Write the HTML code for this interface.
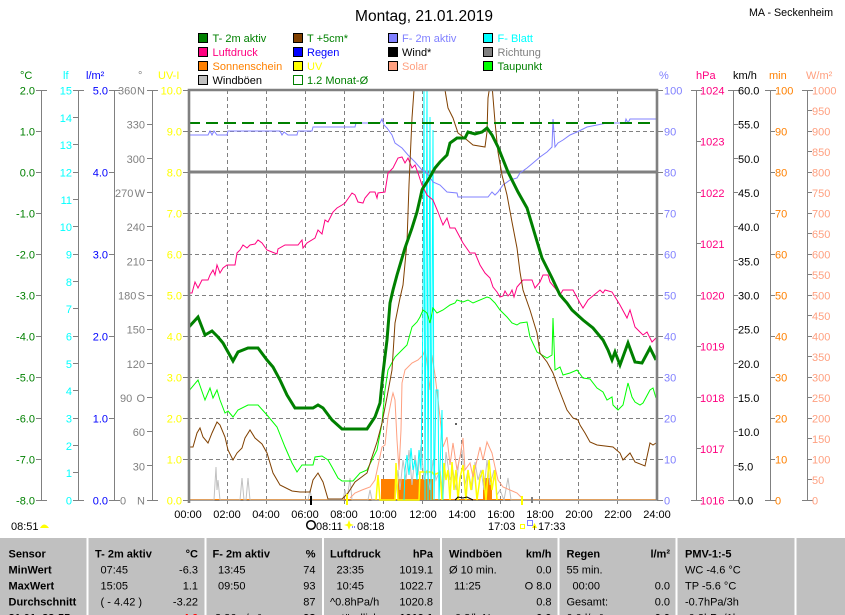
<!DOCTYPE html>
<html><head><meta charset="utf-8"><style>
html,body{margin:0;padding:0;background:#fff;overflow:hidden;}
svg{display:block;font-family:"Liberation Sans",sans-serif;font-size:11px;}
.b{font-weight:bold;}
</style></head><body>
<svg width="845" height="615" viewBox="0 0 845 615" xmlns="http://www.w3.org/2000/svg">
<rect x="0" y="0" width="845" height="615" fill="#fff"/>
<!-- Title -->
<text x="424" y="21" text-anchor="middle" font-size="15.5" fill="#000">Montag, 21.01.2019</text>
<text x="749" y="16" font-size="11" fill="#000" textLength="84" lengthAdjust="spacingAndGlyphs">MA - Seckenheim</text>

<!-- Legend -->
<g stroke="#000" stroke-width="1">
<rect x="198.5" y="33.5" width="9" height="9" fill="#008000"/>
<rect x="198.5" y="47.5" width="9" height="9" fill="#ff0080"/>
<rect x="198.5" y="61.5" width="9" height="9" fill="#ff8000"/>
<rect x="198.5" y="75.5" width="9" height="9" fill="#c0c0c0"/>
<rect x="293.5" y="33.5" width="9" height="9" fill="#804000"/>
<rect x="293.5" y="47.5" width="9" height="9" fill="#0000ff"/>
<rect x="293.5" y="61.5" width="9" height="9" fill="#ffff00"/>
<rect x="388.5" y="33.5" width="9" height="9" fill="#8080ff"/>
<rect x="388.5" y="47.5" width="9" height="9" fill="#000"/>
<rect x="388.5" y="61.5" width="9" height="9" fill="#ffa080"/>
<rect x="483.5" y="33.5" width="9" height="9" fill="#00ffff"/>
<rect x="483.5" y="47.5" width="9" height="9" fill="#808080"/>
<rect x="483.5" y="61.5" width="9" height="9" fill="#00ff00"/>
</g>
<rect x="293.5" y="75.5" width="9" height="9" fill="#fff" stroke="#008000" stroke-width="1"/>
<text x="212.5" y="42" fill="#008000">T- 2m aktiv</text>
<text x="212.5" y="56" fill="#ff0080">Luftdruck</text>
<text x="212.5" y="70" fill="#ff8000">Sonnenschein</text>
<text x="212.5" y="84" fill="#000">Windböen</text>
<text x="307" y="42" fill="#008000">T +5cm*</text>
<text x="307" y="56" fill="#0000ff">Regen</text>
<text x="307" y="70" fill="#ffff00">UV</text>
<text x="307" y="84" fill="#008000">1.2 Monat-Ø</text>
<text x="402" y="42" fill="#8080ff">F- 2m aktiv</text>
<text x="402" y="56" fill="#000">Wind*</text>
<text x="402" y="70" fill="#ffa080">Solar</text>
<text x="497.5" y="42" fill="#00ffff">F- Blatt</text>
<text x="497.5" y="56" fill="#808080">Richtung</text>
<text x="497.5" y="70" fill="#008000">Taupunkt</text>

<!-- Units -->
<text x="20" y="79" fill="#008000">°C</text>
<text x="63" y="79" fill="#00ffff">lf</text>
<text x="86" y="79" fill="#0000ff">l/m²</text>
<text x="138" y="79" fill="#808080">°</text>
<text x="158" y="79" fill="#ffff00">UV-I</text>
<text x="659" y="79" fill="#8080ff">%</text>
<text x="696" y="79" fill="#ff0080">hPa</text>
<text x="733" y="79" fill="#000">km/h</text>
<text x="769" y="79" fill="#ff8000">min</text>
<text x="806" y="79" fill="#ffa080">W/m²</text>

<!-- Axis lines -->
<g stroke="#808080" stroke-width="1" fill="none">
<path d="M41.5,90V500M78.5,90V500M114.5,90V500M152.5,90V500M696.5,90V500M733.5,90V500M770.5,90V500M807.5,90V500"/>
<path d="M36,90.5H47M36,500.5H47M73,90.5H84M73,500.5H84M109,90.5H120M109,500.5H120M147,90.5H158M147,500.5H158M691,90.5H702M691,500.5H702M728,90.5H739M728,500.5H739M765,90.5H776M765,500.5H776M802,90.5H813M802,500.5H813"/>
<path d="M36,131.5H41M36,172.5H41M36,213.5H41M36,254.5H41M36,295.5H41M36,336.5H41M36,377.5H41M36,418.5H41M36,459.5H41"/>
<path d="M73,117.5H78M73,144.5H78M73,172.5H78M73,199.5H78M73,226.5H78M73,254.5H78M73,281.5H78M73,308.5H78M73,336.5H78M73,363.5H78M73,390.5H78M73,418.5H78M73,445.5H78M73,472.5H78"/>
<path d="M109,172.5H114M109,254.5H114M109,336.5H114M109,418.5H114"/>
<path d="M147,124.5H152M147,158.5H152M147,192.5H152M147,226.5H152M147,260.5H152M147,295.5H152M147,329.5H152M147,363.5H152M147,397.5H152M147,431.5H152M147,465.5H152"/>
<path d="M183,131.5H188M183,213.5H188M183,254.5H188M183,295.5H188M183,336.5H188M183,377.5H188M183,418.5H188M183,459.5H188M183,90.5H188M183,172.5H188M183,500.5H188"/>
<path d="M657,131.5H663M657,172.5H663M657,213.5H663M657,254.5H663M657,295.5H663M657,336.5H663M657,377.5H663M657,418.5H663M657,459.5H663M657,90.5H663M657,500.5H663"/>
<path d="M696,141.5H701M696,192.5H701M696,243.5H701M696,295.5H701M696,346.5H701M696,397.5H701M696,448.5H701"/>
<path d="M733,124.5H738M733,158.5H738M733,192.5H738M733,226.5H738M733,260.5H738M733,295.5H738M733,329.5H738M733,363.5H738M733,397.5H738M733,431.5H738M733,465.5H738"/>
<path d="M770,131.5H775M770,172.5H775M770,213.5H775M770,254.5H775M770,295.5H775M770,336.5H775M770,377.5H775M770,418.5H775M770,459.5H775"/>
<path d="M807,110.5H812M807,131.5H812M807,151.5H812M807,172.5H812M807,192.5H812M807,213.5H812M807,233.5H812M807,254.5H812M807,274.5H812M807,295.5H812M807,315.5H812M807,336.5H812M807,356.5H812M807,377.5H812M807,397.5H812M807,418.5H812M807,438.5H812M807,459.5H812M807,479.5H812"/>
<path d="M227.5,500V504M266.5,500V504M305.5,500V504M344.5,500V504M383.5,500V504M422.5,500V504M461.5,500V504M500.5,500V504M539.5,500V504M578.5,500V504M617.5,500V504"/>
</g>

<!-- Left axis labels -->
<g fill="#008000" text-anchor="end">
<text x="35" y="94.5">2.0</text><text x="35" y="135.5">1.0</text><text x="35" y="176.5">0.0</text><text x="35" y="217.5">-1.0</text><text x="35" y="258.5">-2.0</text><text x="35" y="299.5">-3.0</text><text x="35" y="340.5">-4.0</text><text x="35" y="381.5">-5.0</text><text x="35" y="422.5">-6.0</text><text x="35" y="463.5">-7.0</text><text x="35" y="504.5">-8.0</text>
</g>
<g fill="#00ffff" text-anchor="end">
<text x="72" y="94.5">15</text><text x="72" y="121.8">14</text><text x="72" y="149.2">13</text><text x="72" y="176.5">12</text><text x="72" y="203.8">11</text><text x="72" y="231.2">10</text><text x="72" y="258.5">9</text><text x="72" y="285.8">8</text><text x="72" y="313.2">7</text><text x="72" y="340.5">6</text><text x="72" y="367.8">5</text><text x="72" y="395.2">4</text><text x="72" y="422.5">3</text><text x="72" y="449.8">2</text><text x="72" y="477.2">1</text><text x="72" y="504.5">0</text>
</g>
<g fill="#0000ff" text-anchor="end">
<text x="108" y="94.5">5.0</text><text x="108" y="176.5">4.0</text><text x="108" y="258.5">3.0</text><text x="108" y="340.5">2.0</text><text x="108" y="422.5">1.0</text><text x="108" y="504.5">0.0</text>
</g>
<g fill="#808080">
<text x="118" y="94.5">360</text><text x="145" y="94.5" text-anchor="end">N</text>
<text x="145" y="128.7" text-anchor="end">330</text>
<text x="145" y="162.8" text-anchor="end">300</text>
<text x="115" y="197">270</text><text x="145" y="197" text-anchor="end">W</text>
<text x="145" y="231.2" text-anchor="end">240</text>
<text x="145" y="265.3" text-anchor="end">210</text>
<text x="118" y="299.5">180</text><text x="145" y="299.5" text-anchor="end">S</text>
<text x="145" y="333.7" text-anchor="end">150</text>
<text x="145" y="367.8" text-anchor="end">120</text>
<text x="120" y="402">90</text><text x="145" y="402" text-anchor="end">O</text>
<text x="145" y="436.2" text-anchor="end">60</text>
<text x="145" y="470.3" text-anchor="end">30</text>
<text x="120" y="504.5">0</text><text x="145" y="504.5" text-anchor="end">N</text>
</g>
<g fill="#ffff00" text-anchor="end">
<text x="182" y="94.5">10.0</text><text x="182" y="135.5">9.0</text><text x="182" y="176.5">8.0</text><text x="182" y="217.5">7.0</text><text x="182" y="258.5">6.0</text><text x="182" y="299.5">5.0</text><text x="182" y="340.5">4.0</text><text x="182" y="381.5">3.0</text><text x="182" y="422.5">2.0</text><text x="182" y="463.5">1.0</text><text x="182" y="504.5">0.0</text>
</g>

<!-- Right axis labels -->
<g fill="#8080ff">
<text x="664" y="94.5">100</text><text x="664" y="135.5">90</text><text x="664" y="176.5">80</text><text x="664" y="217.5">70</text><text x="664" y="258.5">60</text><text x="664" y="299.5">50</text><text x="664" y="340.5">40</text><text x="664" y="381.5">30</text><text x="664" y="422.5">20</text><text x="664" y="463.5">10</text><text x="664" y="504.5">0</text>
</g>
<g fill="#ff0080">
<text x="700" y="94.5">1024</text><text x="700" y="145.7">1023</text><text x="700" y="197">1022</text><text x="700" y="248.2">1021</text><text x="700" y="299.5">1020</text><text x="700" y="350.7">1019</text><text x="700" y="402">1018</text><text x="700" y="453.2">1017</text><text x="700" y="504.5">1016</text>
</g>
<g fill="#000">
<text x="738" y="94.5">60.0</text><text x="738" y="128.7">55.0</text><text x="738" y="162.8">50.0</text><text x="738" y="197">45.0</text><text x="738" y="231.2">40.0</text><text x="738" y="265.3">35.0</text><text x="738" y="299.5">30.0</text><text x="738" y="333.7">25.0</text><text x="738" y="367.8">20.0</text><text x="738" y="402">15.0</text><text x="738" y="436.2">10.0</text><text x="738" y="470.3">5.0</text><text x="738" y="504.5">0.0</text>
</g>
<g fill="#ff8000">
<text x="775" y="94.5">100</text><text x="775" y="135.5">90</text><text x="775" y="176.5">80</text><text x="775" y="217.5">70</text><text x="775" y="258.5">60</text><text x="775" y="299.5">50</text><text x="775" y="340.5">40</text><text x="775" y="381.5">30</text><text x="775" y="422.5">20</text><text x="775" y="463.5">10</text><text x="775" y="504.5">0</text>
</g>
<g fill="#ffa080">
<text x="812" y="94.5">1000</text><text x="812" y="115">950</text><text x="812" y="135.5">900</text><text x="812" y="156">850</text><text x="812" y="176.5">800</text><text x="812" y="197">750</text><text x="812" y="217.5">700</text><text x="812" y="238">650</text><text x="812" y="258.5">600</text><text x="812" y="279">550</text><text x="812" y="299.5">500</text><text x="812" y="320">450</text><text x="812" y="340.5">400</text><text x="812" y="361">350</text><text x="812" y="381.5">300</text><text x="812" y="402">250</text><text x="812" y="422.5">200</text><text x="812" y="443">150</text><text x="812" y="463.5">100</text><text x="812" y="484">50</text><text x="812" y="504.5">0</text>
</g>

<!-- Grid -->
<g stroke="#808080" stroke-width="1" stroke-dasharray="4,3" fill="none">
<path d="M188,131.5H657M188,213.5H657M188,254.5H657M188,295.5H657M188,336.5H657M188,377.5H657M188,418.5H657M188,459.5H657"/>
<path d="M227.5,90V500M266.5,90V500M305.5,90V500M344.5,90V500M383.5,90V500M422.5,90V500M461.5,90V500M500.5,90V500M539.5,90V500M578.5,90V500M617.5,90V500"/>
</g>
<path d="M188,172H657" stroke="#808080" stroke-width="3"/>
<path d="M188,500.5H657" stroke="#808080" stroke-width="1"/>

<defs><clipPath id="pc"><rect x="188" y="90" width="469" height="411"/></clipPath></defs>
<g clip-path="url(#pc)" fill="none">
<g fill="#ff8000" stroke="none">
<rect x="381" y="479" width="14" height="21"/>
<rect x="398" y="479" width="35" height="21"/>
<rect x="483" y="478" width="9" height="22"/>
</g>
<path d="M188,499.5H657" stroke="#ff8000" stroke-width="1"/>
<polyline stroke="#c0c0c0" stroke-width="1" points="188,500 214,500 216,467 217,490 218,480 220,500 240,500 242,478 244,500 246,500 248,478 250,500 308,500 310,490 312,500 343,500 345,490 347,500 350,478 352,500 368,500 370,490 372,500 395,500 398,470 400,490 403,460 406,480 409,450 412,485 415,455 418,475 421,445 424,480 427,470 430,490 433,460 436,480 440,470 443,495 446,452 450,480 453,470 456,490 459,460 462,450 465,485 468,470 472,490 475,462 478,480 481,470 484,490 487,460 490,485 494,470 497,495 500,490 504,500 508,478 511,500 657,500"/>
<polyline stroke="#ffff00" stroke-width="1.5" points="376,500 378,475 380,500 395,500 396,463 398,500 419,500 420,472 432,472 434,475 440,472 442,500 444,463 446,480 448,470 450,500 452,462 454,490 456,470 458,500 460,478 463,465 466,500 468,470 471,490 474,465 477,500 480,478 483,470 486,500 489,460 492,490 495,470 497,500"/>
<polyline stroke="#ffa080" stroke-width="1" points="350,498 355,493 362,490 370,487 375,480 382,447 385,445 388,417 392,397 393,393 395,400 397,440 399,470 401,430 402,383 405,370 412,363 418,360 423,355 425,350 427,362 430,390 432,355 435,375 438,400 440,417 443,447 447,437 450,465 453,443 457,470 460,457 463,438 465,470 470,463 473,477 477,460 480,447 483,460 487,442 492,453 495,467 498,480 503,487 510,490 517,493 522,498"/>
<polyline stroke="#00ffff" stroke-width="1" points="404,500 405,470 407,455 409,475 411,448 413,470 415,460 417,480 419,450 421,470 423,310 424,90 425,500 427,90 428,500 430,117 431,500 433,130 434,500 436,390 438,390 439,500 442,410 443,500"/>
<polyline stroke="#000" stroke-width="1" points="455,500 458,497 463,498 467,497 473,500"/>
<polyline stroke="#00ff00" stroke-width="1" points="188,392 198,380 205,400 210,388 213,398 217,390 220,400 225,413 228,411 233,417 238,410 248,405 258,405 267,415 277,427 285,447 292,463 297,472 302,465 313,465 315,457 322,456 328,460 332,467 338,478 342,481 353,481 360,473 367,470 372,460 377,450 382,423 385,390 388,370 395,357 402,350 407,345 412,327 417,322 420,317 423,310 427,313 430,323 433,308 437,313 443,310 450,305 455,303 457,300 463,302 468,300 473,303 487,297 490,298 495,303 500,310 507,317 512,323 517,325 520,323 527,322 530,337 537,352 542,355 547,358 552,355 553,318 555,370 560,367 563,375 570,373 577,370 583,378 590,379 597,388 603,392 607,400 612,397 613,405 618,410 623,405 628,383 632,397 635,402 640,405 643,403 650,390 653,388 656,398"/>
<polyline stroke="#ff0080" stroke-width="1" points="188,293 192,293 195,282 198,288 202,280 208,280 210,275 213,270 215,275 217,265 220,273 223,268 227,265 235,265 237,253 240,250 243,245 247,248 250,245 255,244 258,240 262,243 267,250 272,252 277,254 278,249 285,245 298,245 302,240 303,248 307,243 315,238 318,230 322,234 325,220 328,222 333,212 337,208 342,205 345,203 352,193 355,195 358,202 363,203 365,198 370,192 375,192 377,198 378,193 385,192 388,173 393,168 398,158 402,157 405,163 408,158 412,168 415,165 418,173 422,185 427,195 433,200 438,212 443,225 447,218 450,228 455,228 463,243 470,253 475,253 480,265 485,273 490,278 493,287 497,292 500,297 503,296 505,291 508,296 510,294 512,290 514,297 517,287 523,280 532,280 535,288 540,282 543,275 548,275 550,282 555,288 560,295 563,290 573,290 580,303 583,308 588,300 600,290 603,293 605,290 612,292 620,305 627,318 630,310 635,327 640,332 643,335 647,332 652,342 656,338"/>
<polyline stroke="#8080ff" stroke-width="1" points="188,135 208,135 210,131 212,135 214,131 217,135 227,135 228,131 280,131 282,135 284,132 288,135 297,135 298,131 312,131 313,127 355,127 356,123 380,123 382,119 384,125 387,128 392,135 395,143 402,148 408,155 415,162 422,170 427,173 433,182 440,185 447,192 457,193 458,197 488,197 492,192 495,195 498,192 503,185 510,180 517,178 520,173 527,168 533,163 540,157 547,152 552,147 553,119 555,147 558,143 563,140 570,135 577,132 587,127 607,123 625,123 626,119 628,123 630,119 633,119 656,119"/>
<polyline stroke="#804000" stroke-width="1" points="188,447 193,447 197,433 200,428 203,437 208,443 212,433 217,422 220,425 225,437 228,450 233,460 237,453 242,448 245,438 250,430 255,438 262,444 267,453 273,473 280,485 292,491 300,492 310,492 313,480 318,473 323,482 328,499 342,499 348,493 355,482 367,473 372,457 377,442 382,423 387,397 392,370 395,323 400,298 403,285 407,242 409,185 412,118 414,90 418,40 440,40 445,90 448,108 453,118 458,133 462,136 467,140 473,145 485,147 487,132 488,98 490,85 492,85 495,122 498,152 502,175 507,195 512,222 517,248 520,272 523,290 530,310 537,333 540,353 547,362 553,373 558,387 567,410 573,418 578,420 580,425 585,433 590,442 597,445 613,447 620,453 623,460 630,453 635,462 645,466 650,443 653,445 656,443"/>
<path d="M188,123H657" stroke="#008000" stroke-width="2" stroke-dasharray="12,6"/>
<polyline stroke="#008000" stroke-width="3" points="188,328 198,317 205,335 212,331 218,337 223,343 228,352 233,361 238,352 248,348 258,348 267,360 273,367 280,380 287,395 295,408 313,408 318,405 323,408 332,420 342,429 367,429 375,417 380,403 383,373 387,340 390,303 393,290 397,275 405,248 412,228 417,212 420,199 422,190 423,188 427,182 430,177 435,168 440,162 447,155 450,143 457,138 465,138 468,132 475,134 482,132 487,128 492,135 498,147 508,172 518,192 527,208 533,228 542,258 552,278 560,295 567,303 572,310 583,320 593,328 603,340 608,350 612,360 615,352 620,365 628,343 635,362 642,363 650,348 656,360"/>
<rect x="455" y="423" width="2" height="2" fill="#606060"/>
</g>
<path d="M311,496V505" stroke="#000" stroke-width="2"/>
<path d="M347,494V505" stroke="#ffff00" stroke-width="2"/>
<path d="M522,496V505" stroke="#ffff00" stroke-width="2"/>
<path d="M532,497V503" stroke="#808080" stroke-width="2"/>

<path d="M189,503V90H657V500" fill="none" stroke="#808080" stroke-width="2.6"/>

<g fill="#000" text-anchor="middle">
<text x="188" y="518">00:00</text><text x="227" y="518">02:00</text><text x="266" y="518">04:00</text><text x="305" y="518">06:00</text><text x="344" y="518">08:00</text><text x="383" y="518">10:00</text><text x="423" y="518">12:00</text><text x="462" y="518">14:00</text><text x="501" y="518">16:00</text><text x="540" y="518">18:00</text><text x="579" y="518">20:00</text><text x="618" y="518">22:00</text><text x="657" y="518">24:00</text>
</g>
<text x="11" y="530" fill="#000">08:51</text>
<path d="M40,528 Q44,521 49,528 Z" fill="#ffff00"/>
<circle cx="311" cy="525" r="4.3" fill="none" stroke="#000" stroke-width="1.5"/>
<text x="316" y="530" fill="#000">08:11</text>
<path d="M349,520 L350.5,524 L354,525 L350.5,526 L349,530 L347.5,526 L344,525 L347.5,524 Z" fill="#ffff00"/>
<path d="M352,527H356" stroke="#0000ff" stroke-width="1" stroke-dasharray="1,1"/>
<text x="357" y="530" fill="#000">08:18</text>
<text x="488" y="530" fill="#000">17:03</text>
<rect x="520.5" y="524.5" width="4" height="4" fill="none" stroke="#ffff00"/>
<rect x="527.5" y="520.5" width="5" height="5" fill="none" stroke="#0000ff" stroke-dasharray="1,1"/>
<path d="M534.5,523 L537,528 L532,528 Z" fill="#ffff00"/>
<path d="M534.5,526V530" stroke="#806000" stroke-width="1"/>
<text x="538" y="530" fill="#000">17:33</text>

<rect x="0" y="538" width="845" height="77" fill="#c0c0c0"/>
<g fill="#fff">
<rect x="86.5" y="538" width="2" height="77"/>
<rect x="204.5" y="538" width="2" height="77"/>
<rect x="322" y="538" width="2" height="77"/>
<rect x="440" y="538" width="2" height="77"/>
<rect x="557.5" y="538" width="2" height="77"/>
<rect x="675.5" y="538" width="2" height="77"/>
<rect x="794.5" y="538" width="2" height="77"/>
</g>
<g fill="#000">
<g class="b">
<text x="8.5" y="557.5">Sensor</text>
<text x="8.5" y="573.5">MinWert</text>
<text x="8.5" y="589.5">MaxWert</text>
<text x="8.5" y="605.5">Durchschnitt</text>
<text x="8.5" y="621.5">21.01. 23:55</text>
<text x="95" y="557.5">T- 2m aktiv</text><text x="198" y="557.5" text-anchor="end">°C</text>
<text x="212.5" y="557.5">F- 2m aktiv</text><text x="315.5" y="557.5" text-anchor="end">%</text>
<text x="330" y="557.5">Luftdruck</text><text x="433" y="557.5" text-anchor="end">hPa</text>
<text x="449" y="557.5">Windböen</text><text x="551.5" y="557.5" text-anchor="end">km/h</text>
<text x="566.5" y="557.5">Regen</text><text x="670" y="557.5" text-anchor="end">l/m²</text>
<text x="685" y="557.5">PMV-1:-5</text>
<text x="198" y="621.5" text-anchor="end" fill="#ff0000">-4.6</text>
<text x="315.5" y="621.5" text-anchor="end">93</text>
<text x="433" y="621.5" text-anchor="end">1019.1</text>
<text x="551.5" y="621.5" text-anchor="end">0.0</text>
<text x="670" y="621.5" text-anchor="end">0.0</text>
</g>
<text x="100.5" y="573.5">07:45</text><text x="198" y="573.5" text-anchor="end">-6.3</text>
<text x="100.5" y="589.5">15:05</text><text x="198" y="589.5" text-anchor="end">1.1</text>
<text x="100.5" y="605.5">( - 4.42 )</text><text x="198" y="605.5" text-anchor="end">-3.22</text>
<text x="218" y="573.5">13:45</text><text x="315.5" y="573.5" text-anchor="end">74</text>
<text x="218" y="589.5">09:50</text><text x="315.5" y="589.5" text-anchor="end">93</text>
<text x="315.5" y="605.5" text-anchor="end">87</text>
<text x="215" y="621.5">3.36 g/m³</text>
<text x="336.5" y="573.5">23:35</text><text x="433" y="573.5" text-anchor="end">1019.1</text>
<text x="336.5" y="589.5">10:45</text><text x="433" y="589.5" text-anchor="end">1022.7</text>
<text x="330" y="605.5">^0.8hPa/h</text><text x="433" y="605.5" text-anchor="end">1020.8</text>
<text x="336" y="621.5">stündlich</text>
<text x="449" y="573.5">Ø 10 min.</text><text x="551.5" y="573.5" text-anchor="end">0.0</text>
<text x="454" y="589.5">11:25</text><text x="551.5" y="589.5" text-anchor="end">O 8.0</text>
<text x="551.5" y="605.5" text-anchor="end">0.8</text>
<text x="455" y="621.5">0.8/h N</text>
<text x="566.5" y="573.5">55 min.</text>
<text x="572.5" y="589.5">00:00</text><text x="670" y="589.5" text-anchor="end">0.0</text>
<text x="566.5" y="605.5">Gesamt:</text><text x="670" y="605.5" text-anchor="end">0.0</text>
<text x="566.5" y="621.5">0.0 l/m²</text>
<text x="685" y="573.5">WC -4.6 °C</text>
<text x="685" y="589.5">TP -5.6 °C</text>
<text x="685" y="605.5">-0.7hPa/3h</text>
<text x="685" y="621.5">-0.3hPa/1h</text>
</g>
</svg>
</body></html>
